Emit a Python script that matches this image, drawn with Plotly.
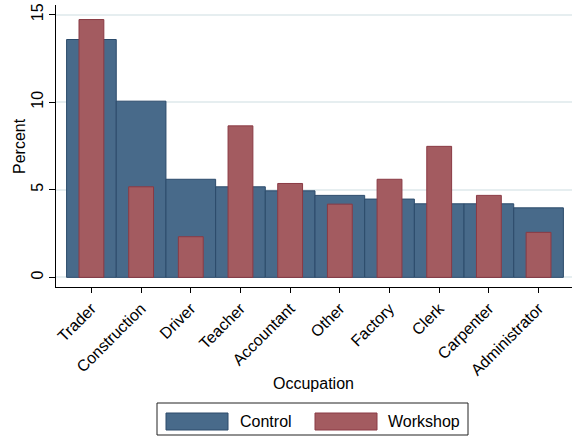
import plotly.graph_objects as go

# Occupation shares (percent) by group
occupations = ["Trader", "Construction", "Driver", "Teacher", "Accountant",
               "Other", "Factory", "Clerk", "Carpenter", "Administrator"]
control = [13.58, 10.06, 5.6, 5.17, 4.94, 4.68, 4.47, 4.2, 4.2, 3.97]
workshop = [14.72, 5.17, 2.32, 8.65, 5.36, 4.18, 5.6, 7.48, 4.68, 2.57]

y_ticks = [0, 5, 10, 15]

CONTROL_FILL = "#486a8a"
CONTROL_LINE = "#2c4b6b"
WORKSHOP_FILL = "#a35b60"
WORKSHOP_LINE = "#8a3a44"
FONT = "Liberation Sans, Arial, sans-serif"

W, H = 574, 437
ML, MR, MT, MB = 56, 2, 5, 150

fig = go.Figure()
fig.add_trace(go.Bar(
    x=occupations, y=control, name="Control", width=1.0,
    marker=dict(color=CONTROL_FILL, line=dict(color=CONTROL_LINE, width=1)),
    showlegend=False,
))
fig.add_trace(go.Bar(
    x=occupations, y=workshop, name="Workshop", width=0.5,
    marker=dict(color=WORKSHOP_FILL, line=dict(color=WORKSHOP_LINE, width=1)),
    showlegend=False,
))


def px_x(p):
    return (p - ML) / (W - ML - MR)


def px_y(p):
    return (H - MB - p) / (H - MT - MB)


# Boxed legend below the axis title
shapes = [
    dict(type="rect", xref="paper", yref="paper",
         x0=px_x(157), x1=px_x(468), y0=px_y(403), y1=px_y(435),
         line=dict(color="#222", width=1), fillcolor="white"),
    dict(type="rect", xref="paper", yref="paper",
         x0=px_x(166), x1=px_x(228), y0=px_y(413), y1=px_y(430),
         line=dict(color=CONTROL_LINE, width=1), fillcolor=CONTROL_FILL),
    dict(type="rect", xref="paper", yref="paper",
         x0=px_x(315), x1=px_x(377), y0=px_y(413), y1=px_y(430),
         line=dict(color=WORKSHOP_LINE, width=1), fillcolor=WORKSHOP_FILL),
]
annotations = [
    dict(text="Control", xref="paper", yref="paper", x=px_x(238), y=px_y(421.5),
         xanchor="left", yanchor="middle", showarrow=False,
         font=dict(family=FONT, size=16, color="black")),
    dict(text="Workshop", xref="paper", yref="paper", x=px_x(386), y=px_y(421.5),
         xanchor="left", yanchor="middle", showarrow=False,
         font=dict(family=FONT, size=16, color="black")),
    dict(text="Occupation", xref="paper", yref="paper", x=px_x(313), y=px_y(383),
         xanchor="center", yanchor="middle", showarrow=False,
         font=dict(family=FONT, size=16, color="black")),
    dict(text="Percent", xref="paper", yref="paper", x=px_x(19), y=px_y(146),
         xanchor="center", yanchor="middle", showarrow=False, textangle=-90,
         font=dict(family=FONT, size=16, color="black")),
]

fig.update_layout(
    width=W, height=H,
    margin=dict(l=ML, r=MR, t=MT, b=MB),
    barmode="overlay",
    paper_bgcolor="white", plot_bgcolor="white",
    font=dict(family=FONT, size=16, color="black"),
    shapes=shapes, annotations=annotations,
    xaxis=dict(
        type="category", range=[-0.713, 9.673],
        showline=True, linecolor="black", linewidth=1,
        ticks="outside", ticklen=5, tickcolor="black",
        tickangle=-45, showgrid=False, tickfont=dict(size=16),
    ),
    yaxis=dict(
        range=[-0.55, 15.55], tickvals=y_ticks,
        showline=True, linecolor="black", linewidth=1,
        ticks="outside", ticklen=6, tickcolor="black",
        tickangle=-90, showgrid=True, gridcolor="#e6eef0", gridwidth=1.5,
        zeroline=False, tickfont=dict(size=16),
    ),
)

fig.write_html("out.html")
